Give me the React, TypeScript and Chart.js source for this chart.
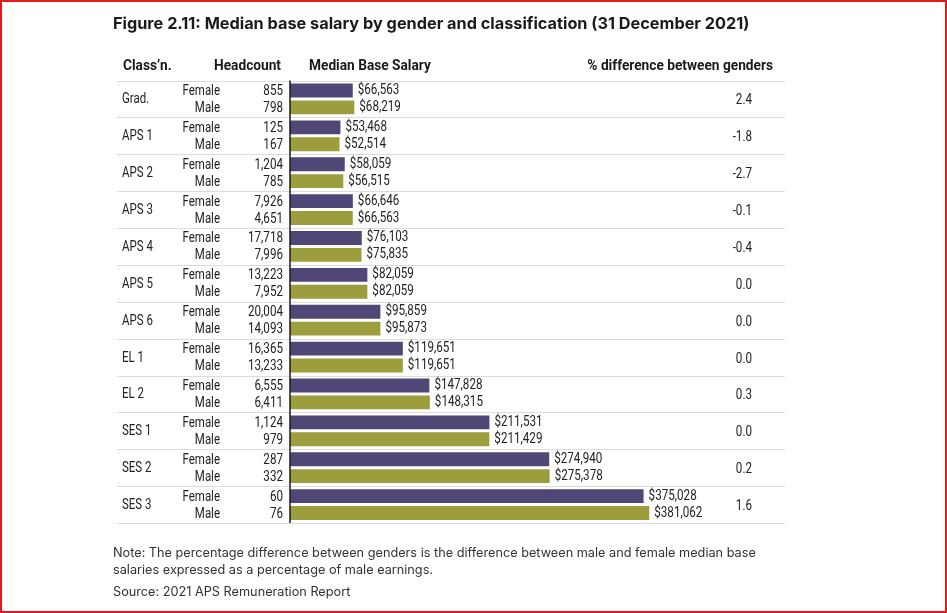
import React, { useEffect, useRef } from "react";
import { Chart, registerables } from "chart.js";

Chart.register(...registerables);

const classes = ["Grad.", "APS 1", "APS 2", "APS 3", "APS 4", "APS 5", "APS 6", "EL 1", "EL 2", "SES 1", "SES 2", "SES 3"];
const femaleHeadcount = [855, 125, 1204, 7926, 17718, 13223, 20004, 16365, 6555, 1124, 287, 60];
const maleHeadcount = [798, 167, 785, 4651, 7996, 7952, 14093, 13233, 6411, 979, 332, 76];
const femaleSalary = [66563, 53468, 58059, 66646, 76103, 82059, 95859, 119651, 147828, 211531, 274940, 375028];
const maleSalary = [68219, 52514, 56515, 66563, 75835, 82059, 95873, 119651, 148315, 211429, 275378, 381062];
const pctDifference = ["2.4", "-1.8", "-2.7", "-0.1", "-0.4", "0.0", "0.0", "0.0", "0.3", "0.0", "0.2", "1.6"];
const genders = ["Female", "Male"];

const titleText = "Figure 2.11: Median base salary by gender and classification (31 December 2021)";
const headers = ["Class\u2019n.", "Headcount", "Median Base Salary", "% difference between genders"];
const noteLines = [
  "Note: The percentage difference between genders is the difference between male and female median base",
  "salaries expressed as a percentage of male earnings.",
  "Source: 2021 APS Remuneration Report",
];

const FEMALE = "#504777";
const MALE = "#9c9d3c";
const COND = '"Roboto", "Liberation Sans", sans-serif';
const MAIN = '"Inter", "Roboto", "Liberation Sans", sans-serif';

function fitFont(ctx: CanvasRenderingContext2D, text: string, weight: string, family: string, target: number) {
  ctx.font = `${weight} 20px ${family}`;
  const w = ctx.measureText(text).width;
  const size = (20 * target) / w;
  ctx.font = `${weight} ${size.toFixed(2)}px ${family}`;
}

// draw text horizontally compressed to mimic a condensed face
function condText(ctx: CanvasRenderingContext2D, text: string, x: number, y: number, align: CanvasTextAlign, sx: number) {
  ctx.save();
  ctx.translate(x, y);
  ctx.scale(sx, 1);
  ctx.textAlign = align;
  ctx.fillText(text, 0, 0);
  ctx.restore();
}

function scaleFor(ctx: CanvasRenderingContext2D, font: string, text: string, target: number) {
  ctx.font = font;
  return target / ctx.measureText(text).width;
}

const fmt = (n: number) => n.toLocaleString("en-US");

const tablePlugin = {
  id: "tablePlugin",
  afterDraw(chart: any) {
    const ctx: CanvasRenderingContext2D = chart.ctx;
    const area = chart.chartArea;
    const yScale = chart.scales.y;
    const n = classes.length;
    const rowH = (area.bottom - area.top) / n;
    const m0 = chart.getDatasetMeta(0);
    const m1 = chart.getDatasetMeta(1);
    ctx.save();
    ctx.textBaseline = "middle";

    // title
    ctx.fillStyle = "#1a1a1a";
    ctx.textAlign = "left";
    fitFont(ctx, titleText, "bold", MAIN, 637);
    ctx.fillText(titleText, 113, 24);

    // headers (bold condensed)
    const hFont = `bold 15px ${COND}`;
    const hs = scaleFor(ctx, hFont, headers[1], 67);
    ctx.font = hFont;
    ctx.fillStyle = "#1a1a1a";
    const hy = 66;
    condText(ctx, headers[0], 123, hy, "left", hs);
    condText(ctx, headers[1], 281, hy, "right", hs);
    condText(ctx, headers[2], 309, hy, "left", hs);
    condText(ctx, headers[3], 773, hy, "right", hs);

    // row separators
    ctx.strokeStyle = "#dcdcdc";
    ctx.lineWidth = 1;
    for (let i = 0; i <= n; i++) {
      const y = Math.round(area.top + i * rowH) + 0.5;
      ctx.beginPath();
      ctx.moveTo(117, y);
      ctx.lineTo(area.right, y);
      ctx.stroke();
    }

    // axis line
    ctx.strokeStyle = "#1a1a1a";
    ctx.lineWidth = 1.5;
    ctx.beginPath();
    ctx.moveTo(area.left, area.top);
    ctx.lineTo(area.left, area.bottom);
    ctx.stroke();

    // table body
    const bFont = `14px ${COND}`;
    const ts = scaleFor(ctx, bFont, genders[0], 37.5);
    const ns = scaleFor(ctx, bFont, "20,004", 35);
    ctx.font = bFont;
    ctx.fillStyle = "#222";
    for (let i = 0; i < n; i++) {
      const cy = yScale.getPixelForValue(i);
      const fy = m0.data[i].y;
      const my = m1.data[i].y;
      condText(ctx, classes[i], 122, cy + 1, "left", ts);
      condText(ctx, genders[0], 220, fy + 1, "right", ts);
      condText(ctx, genders[1], 220, my + 1, "right", ts);
      condText(ctx, fmt(femaleHeadcount[i]), 283, fy + 1, "right", ns);
      condText(ctx, fmt(maleHeadcount[i]), 283, my + 1, "right", ns);
      condText(ctx, pctDifference[i], 752, cy + 2, "right", ns);
      condText(ctx, "$" + fmt(femaleSalary[i]), m0.data[i].x + 5, fy, "left", ns);
      condText(ctx, "$" + fmt(maleSalary[i]), m1.data[i].x + 5, my, "left", ns);
    }

    // notes
    ctx.fillStyle = "#333";
    ctx.textAlign = "left";
    fitFont(ctx, noteLines[0], "normal", MAIN, 643);
    ctx.fillText(noteLines[0], 113, 553);
    ctx.fillText(noteLines[1], 113, 570);
    ctx.fillText(noteLines[2], 113, 592);

    // border
    ctx.strokeStyle = "#e3191f";
    ctx.lineWidth = 2;
    ctx.strokeRect(1, 1, chart.width - 2, chart.height - 2);
    ctx.restore();
  },
};

export default function App() {
  const ref = useRef<HTMLCanvasElement>(null);
  useEffect(() => {
    if (!ref.current) return;
    const chart = new Chart(ref.current, {
      type: "bar",
      data: {
        labels: classes,
        datasets: [
          { label: genders[0], data: femaleSalary, backgroundColor: FEMALE, barPercentage: 0.82, categoryPercentage: 0.92 },
          { label: genders[1], data: maleSalary, backgroundColor: MALE, barPercentage: 0.82, categoryPercentage: 0.92 },
        ],
      },
      options: {
        indexAxis: "y",
        responsive: false,
        animation: false,
        devicePixelRatio: 1,
        layout: { padding: { left: 290, right: 162, top: 80.5, bottom: 90 } },
        plugins: { legend: { display: false }, tooltip: { enabled: false } },
        scales: {
          x: { display: false, min: 0, max: 525000 },
          y: { display: false },
        },
      },
      plugins: [tablePlugin],
    } as any);
    return () => chart.destroy();
  }, []);
  return (
    <div style={{ position: "fixed", left: 0, top: 0, width: 947, height: 613, background: "#fff" }}>
      <canvas ref={ref} width={947} height={613} style={{ display: "block" }} />
    </div>
  );
}
